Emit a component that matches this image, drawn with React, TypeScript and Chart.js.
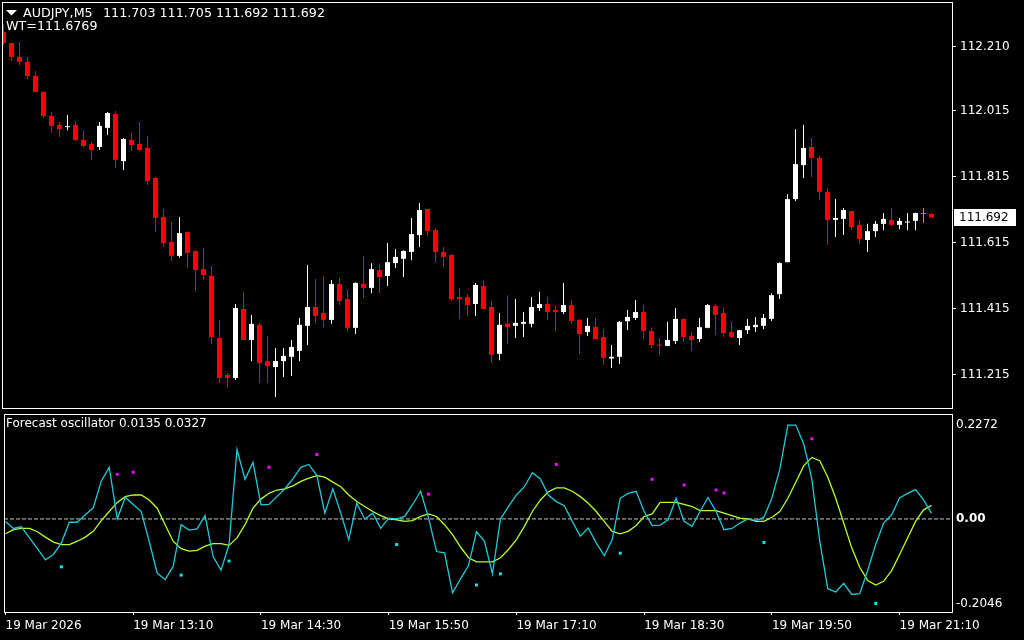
import React, { useEffect, useRef } from "react";
import { Chart, registerables } from "chart.js";

Chart.register(...registerables);

const FONT = "'DejaVu Sans', sans-serif";

const symbolTitle = "AUDJPY,M5";
const lastBarText = "111.703 111.705 111.692 111.692";
const wtText = "WT=111.6769";
const oscTitle = "Forecast oscillator 0.0135 0.0327";

const opens = [
  112.254, 112.221, 112.179, 112.164, 112.121, 112.073, 112.0, 111.973, 111.966, 111.973,
  111.927, 111.915, 111.906, 111.964, 112.006, 111.863, 111.927, 111.915, 111.903, 111.812,
  111.694, 111.618, 111.576, 111.648, 111.591, 111.536, 111.515, 111.327, 111.215, 111.206,
  111.415, 111.321, 111.367, 111.257, 111.239, 111.257, 111.27, 111.288, 111.364, 111.421,
  111.403, 111.382, 111.491, 111.445, 111.358, 111.491, 111.479, 111.533, 111.515, 111.554,
  111.567, 111.588, 111.639, 111.718, 111.654, 111.588, 111.579, 111.451, 111.451, 111.43,
  111.485, 111.421, 111.279, 111.37, 111.364, 111.37, 111.37, 111.418, 111.43, 111.412,
  111.406, 111.427, 111.382, 111.345, 111.36, 111.33, 111.265, 111.27, 111.378, 111.388,
  111.406, 111.348, 111.306, 111.303, 111.318, 111.385, 111.333, 111.324, 111.358, 111.424,
  111.403, 111.345, 111.327, 111.351, 111.36, 111.364, 111.385, 111.46, 111.557, 111.748,
  111.851, 111.906, 111.873, 111.77, 111.685, 111.688, 111.712, 111.67, 111.624, 111.651,
  111.673, 111.685, 111.67, 111.677, 111.682, 111.703, 111.703,
];
const highs = [
  112.276, 112.222, 112.224, 112.179, 112.136, 112.074, 112.012, 111.982, 112.003, 111.985,
  111.957, 111.921, 111.982, 112.012, 112.015, 111.933, 111.948, 111.982, 111.939, 111.815,
  111.718, 111.679, 111.694, 111.649, 111.592, 111.6, 111.545, 111.382, 111.221, 111.43,
  111.467, 111.397, 111.373, 111.333, 111.297, 111.297, 111.321, 111.388, 111.548, 111.506,
  111.515, 111.503, 111.509, 111.473, 111.495, 111.576, 111.554, 111.554, 111.615, 111.597,
  111.592, 111.691, 111.736, 111.719, 111.66, 111.603, 111.58, 111.479, 111.46, 111.494,
  111.503, 111.439, 111.403, 111.457, 111.445, 111.406, 111.451, 111.467, 111.451, 111.424,
  111.494, 111.442, 111.385, 111.388, 111.388, 111.354, 111.306, 111.379, 111.412, 111.442,
  111.427, 111.36, 111.327, 111.376, 111.418, 111.386, 111.345, 111.388, 111.43, 111.431,
  111.421, 111.376, 111.352, 111.385, 111.391, 111.4, 111.463, 111.557, 111.763, 111.96,
  111.973, 111.933, 111.879, 111.782, 111.748, 111.721, 111.713, 111.685, 111.673, 111.682,
  111.706, 111.721, 111.691, 111.706, 111.707, 111.721, 111.705,
];
const lows = [
  112.215, 112.167, 112.154, 112.112, 112.072, 111.994, 111.948, 111.936, 111.957, 111.924,
  111.906, 111.867, 111.897, 111.942, 111.842, 111.836, 111.894, 111.894, 111.791, 111.648,
  111.603, 111.56, 111.57, 111.539, 111.47, 111.503, 111.309, 111.191, 111.176, 111.2,
  111.321, 111.257, 111.191, 111.191, 111.148, 111.209, 111.212, 111.257, 111.306, 111.373,
  111.36, 111.37, 111.427, 111.348, 111.339, 111.448, 111.463, 111.463, 111.485, 111.539,
  111.512, 111.563, 111.603, 111.636, 111.557, 111.542, 111.439, 111.385, 111.394, 111.394,
  111.414, 111.254, 111.26, 111.309, 111.327, 111.33, 111.36, 111.409, 111.382, 111.348,
  111.4, 111.37, 111.279, 111.333, 111.323, 111.245, 111.236, 111.248, 111.351, 111.382,
  111.324, 111.297, 111.276, 111.302, 111.309, 111.315, 111.288, 111.315, 111.357, 111.336,
  111.33, 111.327, 111.306, 111.339, 111.345, 111.354, 111.379, 111.445, 111.556, 111.742,
  111.812, 111.815, 111.745, 111.609, 111.633, 111.639, 111.654, 111.612, 111.588, 111.633,
  111.654, 111.667, 111.657, 111.654, 111.654, 111.676, 111.692,
];
const closes = [
  112.221, 112.179, 112.164, 112.121, 112.073, 112.0, 111.97, 111.96, 111.968, 111.927,
  111.909, 111.897, 111.97, 112.009, 111.867, 111.93, 111.912, 111.897, 111.803, 111.691,
  111.615, 111.576, 111.645, 111.585, 111.533, 111.518, 111.33, 111.206, 111.206, 111.418,
  111.321, 111.37, 111.251, 111.242, 111.257, 111.273, 111.3, 111.367, 111.421, 111.394,
  111.382, 111.491, 111.439, 111.358, 111.494, 111.479, 111.536, 111.512, 111.557, 111.573,
  111.591, 111.642, 111.715, 111.651, 111.588, 111.573, 111.445, 111.445, 111.427, 111.488,
  111.415, 111.276, 111.367, 111.36, 111.373, 111.376, 111.421, 111.43, 111.406, 111.406,
  111.427, 111.379, 111.339, 111.364, 111.324, 111.267, 111.27, 111.376, 111.391, 111.406,
  111.348, 111.306, 111.304, 111.321, 111.385, 111.33, 111.321, 111.36, 111.427, 111.397,
  111.342, 111.33, 111.351, 111.364, 111.367, 111.388, 111.457, 111.554, 111.748, 111.854,
  111.903, 111.873, 111.77, 111.685, 111.691, 111.715, 111.663, 111.627, 111.651, 111.673,
  111.688, 111.67, 111.682, 111.68, 111.706, 111.703, 111.692,
];

const forecast = [
  -0.006, -0.023, -0.019, -0.046, -0.072, -0.099, -0.086, -0.058, -0.008, -0.008,
  0.01, 0.027, 0.092, 0.125, 0.0, 0.052, 0.035, 0.018, -0.054, -0.131,
  -0.147, -0.115, -0.014, -0.027, -0.024, 0.008, -0.091, -0.124, -0.062, 0.168,
  0.096, 0.137, 0.034, 0.035, 0.054, 0.073, 0.097, 0.125, 0.132, 0.105,
  0.014, 0.073, 0.014, -0.05, 0.038, 0.0, 0.014, -0.023, 0.002, 0.0,
  0.006, 0.035, 0.067, 0.002, -0.079, -0.082, -0.179, -0.145, -0.113, -0.031,
  -0.054, -0.133, 0.0, 0.03, 0.058, 0.078, 0.112, 0.097, 0.058, 0.042,
  0.032, -0.006, -0.042, -0.022, -0.058, -0.089, -0.05, 0.05, 0.062, 0.067,
  0.018, -0.016, -0.015, -0.002, 0.05, -0.006, -0.018, 0.018, 0.052, 0.018,
  -0.026, -0.023, -0.01, 0.0, -0.004, 0.004, 0.05, 0.121, 0.2272, 0.2272,
  0.181, 0.097, -0.054, -0.169, -0.177, -0.156, -0.183, -0.181, -0.125, -0.062,
  -0.01, 0.01, 0.051, 0.062, 0.071, 0.046, 0.0135,
];
const signal = [
  -0.036, -0.026, -0.023, -0.023, -0.031, -0.044, -0.056, -0.062, -0.062, -0.054,
  -0.044, -0.03, -0.004, 0.018, 0.04, 0.054, 0.058, 0.058, 0.046, 0.026,
  -0.014, -0.054, -0.072, -0.078, -0.076, -0.066, -0.06, -0.06, -0.064, -0.046,
  -0.014, 0.026, 0.048, 0.062, 0.07, 0.073, 0.08, 0.091, 0.099, 0.105,
  0.101, 0.089, 0.078, 0.058, 0.042, 0.03, 0.018, 0.008, 0.0, -0.002,
  -0.006, -0.004, 0.006, 0.012, 0.006, -0.014, -0.038, -0.068, -0.094, -0.104,
  -0.104, -0.104, -0.094, -0.074, -0.05, -0.018, 0.018, 0.046, 0.066, 0.075,
  0.075, 0.067, 0.054, 0.038, 0.018, -0.006, -0.03, -0.036, -0.03, -0.016,
  0.006, 0.012, 0.04, 0.04, 0.04, 0.035, 0.03, 0.02, 0.02, 0.02,
  0.014, 0.008, 0.002, 0.0, -0.006, -0.006, 0.004, 0.018, 0.05, 0.089,
  0.129, 0.149, 0.141, 0.101, 0.05, -0.01, -0.07, -0.117, -0.149, -0.16,
  -0.151, -0.125, -0.086, -0.046, -0.006, 0.022, 0.0327,
];

const upDotBars = [14, 16, 33, 39, 53, 69, 81, 85, 89, 90, 101];
const upDotValues = [0.108, 0.113, 0.125, 0.156, 0.06, 0.132, 0.096, 0.082, 0.07, 0.063, 0.194];
const downDotBars = [7, 22, 28, 49, 59, 62, 77, 95, 109];
const downDotValues = [-0.116, -0.136, -0.102, -0.062, -0.16, -0.133, -0.083, -0.057, -0.2046];

const timeTickBars = [0, 16, 32, 48, 64, 80, 96, 112];
const timeTickLabels = [
  "19 Mar 2026", "19 Mar 13:10", "19 Mar 14:30", "19 Mar 15:50",
  "19 Mar 17:10", "19 Mar 18:30", "19 Mar 19:50", "19 Mar 21:10",
];
const priceTicks = [111.215, 111.415, 111.615, 111.815, 112.015, 112.21];
const oscTicks = [-0.2046, 0, 0.2272];

const X_MIN = -0.1875;
const X_MAX = 118.5625;
const PRICE_MIN = 111.115;
const PRICE_MAX = 112.3453;
const OSC_MIN = -0.2254;
const OSC_MAX = 0.2541;

const WHITE = "#ffffff";
const RED = "#ff0000";
const LIME = "#00ff00";

const framePlugin = {
  id: "frame",
  afterDraw(chart: any) {
    const { ctx, chartArea: a } = chart;
    ctx.save();
    ctx.strokeStyle = WHITE;
    ctx.lineWidth = 1;
    ctx.strokeRect(a.left + 0.5, a.top + 0.5, a.right - a.left, a.bottom - a.top);
    ctx.restore();
  },
};

export default function App() {
  const mainRef = useRef<HTMLCanvasElement>(null);
  const oscRef = useRef<HTMLCanvasElement>(null);

  useEffect(() => {
    Chart.defaults.font.family = FONT;
    Chart.defaults.font.size = 12;
    Chart.defaults.color = WHITE;

    const colors = closes.map((c, i) => (c > opens[i] ? WHITE : c < opens[i] ? RED : LIME));

    const headerPlugin = {
      id: "header",
      afterDraw(chart: any) {
        const ctx = chart.ctx;
        ctx.save();
        ctx.fillStyle = WHITE;
        ctx.beginPath();
        ctx.moveTo(6, 10);
        ctx.lineTo(17, 10);
        ctx.lineTo(11.5, 15.5);
        ctx.closePath();
        ctx.fill();
        ctx.font = `12.7px ${FONT}`;
        ctx.textBaseline = "middle";
        ctx.textAlign = "left";
        ctx.fillText(symbolTitle, 23, 14);
        ctx.fillText(lastBarText, 103, 14);
        ctx.fillText(wtText, 6, 27);
        ctx.font = `12px ${FONT}`;
        const last = closes[closes.length - 1];
        const y = chart.scales.y.getPixelForValue(last);
        ctx.fillRect(954, Math.round(y) - 9, 62, 17);
        ctx.fillStyle = "#000000";
        ctx.fillText(last.toFixed(3), 959, y);
        ctx.restore();
      },
    };

    const main = new Chart(mainRef.current as HTMLCanvasElement, {
      type: "bar",
      data: {
        datasets: [
          {
            label: "body",
            data: opens.map((o, i) => ({ x: i, y: [o, closes[i]] })) as any,
            backgroundColor: colors,
            borderWidth: 0,
            grouped: false,
            maxBarThickness: 5,
            minBarLength: 1,
            inflateAmount: 0,
            order: 0,
          } as any,
          {
            label: "wick",
            data: lows.map((l, i) => ({ x: i, y: [l, highs[i]] })) as any,
            backgroundColor: colors,
            borderWidth: 0,
            grouped: false,
            maxBarThickness: 1,
            inflateAmount: 0,
            order: 1,
          } as any,
        ],
      },
      options: {
        animation: false,
        responsive: false,
        maintainAspectRatio: false,
        layout: { padding: { left: 2, top: 2, right: 0, bottom: 2 } },
        plugins: { legend: { display: false }, tooltip: { enabled: false } },
        scales: {
          x: { type: "linear", display: false, min: X_MIN, max: X_MAX, offset: false },
          y: {
            type: "linear",
            position: "right",
            min: PRICE_MIN,
            max: PRICE_MAX,
            afterBuildTicks: (s: any) => {
              s.ticks = priceTicks.map((v) => ({ value: v }));
            },
            afterFit: (s: any) => {
              s.width = 72;
              s.paddingTop = 0;
              s.paddingBottom = 0;
            },
            ticks: {
              color: WHITE,
              padding: 4,
              font: { family: FONT, size: 12 },
              callback: (v: any) => Number(v).toFixed(3),
            },
            grid: { drawOnChartArea: false, drawTicks: true, tickLength: 4, color: WHITE },
            border: { display: false },
          },
        },
      } as any,
      plugins: [framePlugin, headerPlugin],
    });

    const oscTitlePlugin = {
      id: "oscTitle",
      afterDraw(chart: any) {
        const ctx = chart.ctx;
        ctx.save();
        ctx.fillStyle = WHITE;
        ctx.font = `12px ${FONT}`;
        ctx.textBaseline = "middle";
        ctx.textAlign = "left";
        ctx.fillText(oscTitle, 6, 14);
        ctx.restore();
      },
    };

    const osc = new Chart(oscRef.current as HTMLCanvasElement, {
      type: "line",
      data: {
        datasets: [
          {
            label: "level",
            data: [
              { x: X_MIN, y: 0 },
              { x: X_MAX, y: 0 },
            ],
            borderColor: "#c8c8c8",
            borderWidth: 1,
            borderDash: [4, 2],
            pointRadius: 0,
            order: 10,
          },
          {
            label: "signal",
            data: signal.map((v, i) => ({ x: i, y: v })),
            borderColor: "#b4ff2a",
            borderWidth: 1.3,
            pointRadius: 0,
            tension: 0,
            order: 3,
          },
          {
            label: "forecast",
            data: forecast.map((v, i) => ({ x: i, y: v })),
            borderColor: "#22c8d8",
            borderWidth: 1.3,
            pointRadius: 0,
            tension: 0,
            order: 2,
          },
          {
            label: "up",
            data: upDotBars.map((b, k) => ({ x: b, y: upDotValues[k] })),
            showLine: false,
            pointStyle: "rect",
            pointRadius: 2.1,
            pointBorderWidth: 0,
            pointBackgroundColor: "#ff00ff",
            order: 0,
          },
          {
            label: "down",
            data: downDotBars.map((b, k) => ({ x: b, y: downDotValues[k] })),
            showLine: false,
            pointStyle: "rect",
            pointRadius: 2.1,
            pointBorderWidth: 0,
            pointBackgroundColor: "#00eeee",
            order: 0,
          },
        ],
      },
      options: {
        animation: false,
        responsive: false,
        maintainAspectRatio: false,
        layout: { padding: { left: 2, top: 1, right: 0, bottom: 0 } },
        plugins: { legend: { display: false }, tooltip: { enabled: false } },
        scales: {
          x: {
            type: "linear",
            position: "bottom",
            min: X_MIN,
            max: X_MAX,
            offset: false,
            afterBuildTicks: (s: any) => {
              s.ticks = timeTickBars.map((v) => ({ value: v }));
            },
            afterFit: (s: any) => {
              s.height = 28;
              s.paddingLeft = 0;
              s.paddingRight = 0;
            },
            ticks: {
              color: WHITE,
              align: "start",
              autoSkip: false,
              maxRotation: 0,
              minRotation: 0,
              padding: 4,
              font: { family: FONT, size: 12 },
              callback: (v: any) => {
                const k = timeTickBars.indexOf(Number(v));
                return k >= 0 ? timeTickLabels[k] : "";
              },
            },
            grid: { drawOnChartArea: false, drawTicks: true, tickLength: 3, color: WHITE },
            border: { display: false },
          },
          y: {
            type: "linear",
            position: "right",
            min: OSC_MIN,
            max: OSC_MAX,
            afterBuildTicks: (s: any) => {
              s.ticks = oscTicks.map((v) => ({ value: v }));
            },
            afterFit: (s: any) => {
              s.width = 72;
              s.paddingTop = 0;
              s.paddingBottom = 0;
            },
            ticks: {
              color: WHITE,
              padding: 4,
              font: (c: any) => ({
                family: FONT,
                size: 12,
                weight: c.tick && c.tick.value === 0 ? "bold" : "normal",
              }),
              callback: (v: any) => (Number(v) === 0 ? "0.00" : Number(v).toFixed(4)),
            },
            grid: { display: false, drawTicks: false },
            border: { display: false },
          },
        },
      } as any,
      plugins: [framePlugin, oscTitlePlugin],
    });

    return () => {
      main.destroy();
      osc.destroy();
    };
  }, []);

  return (
    <div
      style={{
        position: "absolute",
        left: 0,
        top: 0,
        width: 1024,
        height: 640,
        background: "#000000",
        overflow: "hidden",
      }}
    >
      <canvas ref={mainRef} width={1024} height={410} style={{ position: "absolute", left: 0, top: 0 }} />
      <canvas ref={oscRef} width={1024} height={230} style={{ position: "absolute", left: 0, top: 410 }} />
    </div>
  );
}
